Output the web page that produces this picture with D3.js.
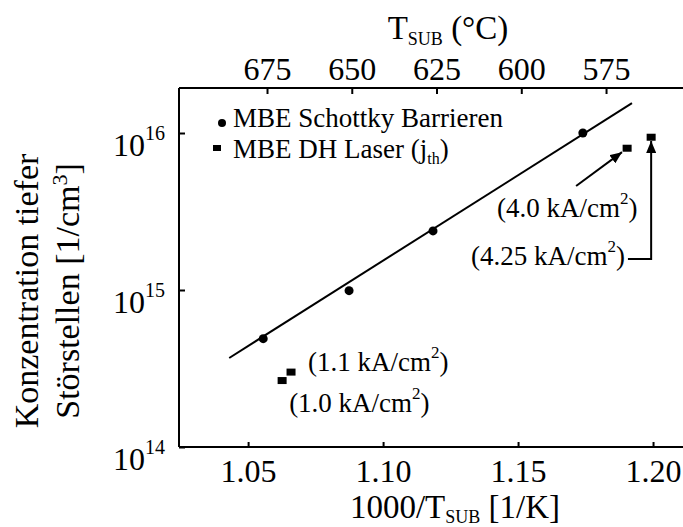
<!DOCTYPE html>
<html>
<head>
<meta charset="utf-8">
<script src="https://cdn.jsdelivr.net/npm/d3@7"></script>
<style>
  body { margin: 0; background: #fff; }
  text { font-family: "Liberation Serif", "Times New Roman", serif; fill: #000; }
</style>
</head>
<body>
<div id="draw_zone"></div>
<script>
// data
var xTicks = [1.05, 1.10, 1.15, 1.20];
var topTicks = [675, 650, 625, 600, 575];
var yTicks = [1e14, 1e15, 1e16];

var schottkyX = [1.0556, 1.0874, 1.1185, 1.1740];
var schottkyY = [4.9e14, 9.9e14, 2.38e15, 1.0e16];
var laserX = [1.0626, 1.0659, 1.1904, 1.1993];
var laserY = [2.65e14, 3.0e14, 8.0e15, 9.4e15];
var fitX = [1.043, 1.1922];
var fitY = [3.69e14, 1.55e16];

var labels = ["(1.1 kA/cm", "(1.0 kA/cm", "(4.0 kA/cm", "(4.25 kA/cm"];
var labelX = [1.0722, 1.0652, 1.1422, 1.1326];
var labelY = [3.05e14, 1.67e14, 2.92e15, 1.44e15];

var W = 683, H = 527;
var svg = d3.select("#draw_zone").append("svg").attr("width", W).attr("height", H);

var x = d3.scaleLinear().domain([1.0244, 1.2111]).range([179, 683]);
var xTop = d3.scaleLinear().domain([700.96, 552.3]).range([179, 683]);
var y = d3.scaleLog().domain([1e14, 1.935e16]).range([447, 88]);

svg.append("defs").append("marker")
  .attr("id", "head").attr("viewBox", "0 0 12 10")
  .attr("refX", 12).attr("refY", 5)
  .attr("markerWidth", 12).attr("markerHeight", 10)
  .attr("markerUnits", "userSpaceOnUse")
  .attr("orient", "auto")
  .append("path").attr("d", "M0,0 L12,5 L0,10 Z").attr("fill", "#000");

// axes
var axBottom = svg.append("g").attr("transform", "translate(0,447)")
  .call(d3.axisBottom(x).tickValues(xTicks).tickSize(-5).tickFormat(d3.format(".2f")).tickPadding(12));
var axTop = svg.append("g").attr("transform", "translate(0,88)")
  .call(d3.axisTop(xTop).tickValues(topTicks).tickSize(-6).tickPadding(8));
var axLeft = svg.append("g").attr("transform", "translate(179,0)")
  .call(d3.axisLeft(y).tickValues(yTicks).tickSize(-6).tickFormat(""));

[axBottom, axTop, axLeft].forEach(function(g) {
  g.attr("font-family", null);
  g.select(".domain").attr("stroke", "#000").attr("stroke-width", 2);
  g.selectAll(".tick line").attr("stroke", "#000").attr("stroke-width", 2);
  g.selectAll(".tick text").attr("font-size", 32).attr("fill", "#000");
});
axBottom.select(".domain").attr("d", "M179,0H683");
axTop.select(".domain").attr("d", "M179,0H683");
axLeft.select(".domain").attr("d", "M0,88V447");

// y tick labels with exponents
yTicks.forEach(function(v) {
  var t = svg.append("text").attr("x", 165).attr("y", y(v) + 23)
    .attr("text-anchor", "end").attr("font-size", 32);
  t.append("tspan").text("10");
  t.append("tspan").attr("font-size", 20).attr("dy", -16).text(Math.round(Math.log10(v)));
});

// axis titles
var tt = svg.append("text").attr("x", 448).attr("y", 39).attr("text-anchor", "middle").attr("font-size", 33);
tt.append("tspan").text("T");
tt.append("tspan").attr("font-size", 18).attr("dy", 6).text("SUB");
tt.append("tspan").attr("dy", -6).text(" (°C)");

var bt = svg.append("text").attr("x", 455).attr("y", 518).attr("text-anchor", "middle").attr("font-size", 33);
bt.append("tspan").text("1000/T");
bt.append("tspan").attr("font-size", 18).attr("dy", 5).text("SUB");
bt.append("tspan").attr("dy", -5).text(" [1/K]");

var yt = svg.append("g").attr("transform", "translate(0,291) rotate(-90)");
yt.append("text").attr("x", 0).attr("y", 38).attr("text-anchor", "middle").attr("font-size", 34)
  .text("Konzentration tiefer");
var yt2 = yt.append("text").attr("x", 0).attr("y", 79).attr("text-anchor", "middle").attr("font-size", 34);
yt2.append("tspan").text("Störstellen [1/cm");
yt2.append("tspan").attr("font-size", 22).attr("dy", -12).text("3");
yt2.append("tspan").attr("dy", 12).text("]");

// fit line
svg.append("path")
  .datum(d3.zip(fitX, fitY))
  .attr("d", d3.line().x(function(d) { return x(d[0]); }).y(function(d) { return y(d[1]); }))
  .attr("fill", "none").attr("stroke", "#000").attr("stroke-width", 2);

// markers
svg.selectAll("circle.sch").data(d3.zip(schottkyX, schottkyY)).enter().append("circle")
  .attr("class", "sch")
  .attr("cx", function(d) { return x(d[0]); }).attr("cy", function(d) { return y(d[1]); })
  .attr("r", 4.5).attr("fill", "#000");
svg.selectAll("rect.las").data(d3.zip(laserX, laserY)).enter().append("rect")
  .attr("class", "las")
  .attr("x", function(d) { return x(d[0]) - 4.5; }).attr("y", function(d) { return y(d[1]) - 3.5; })
  .attr("width", 9).attr("height", 7).attr("fill", "#000");

// legend
svg.append("circle").attr("cx", 222).attr("cy", 123).attr("r", 4).attr("fill", "#000");
svg.append("text").attr("x", 233).attr("y", 127).attr("font-size", 27).text("MBE Schottky Barrieren");
svg.append("rect").attr("x", 213).attr("y", 145).attr("width", 8).attr("height", 6).attr("fill", "#000");
var lg = svg.append("text").attr("x", 233).attr("y", 158).attr("font-size", 27);
lg.append("tspan").text("MBE DH Laser (j");
lg.append("tspan").attr("font-size", 16).attr("dy", 6).text("th");
lg.append("tspan").attr("dy", -6).text(")");

// annotations
labels.forEach(function(s, i) {
  var t = svg.append("text").attr("x", x(labelX[i])).attr("y", y(labelY[i])).attr("font-size", 27);
  t.append("tspan").text(s);
  t.append("tspan").attr("font-size", 17).attr("dy", -13).text("2");
  t.append("tspan").attr("dy", 13).text(")");
});

// arrows
svg.append("path")
  .datum([[1.1715, 4.6e15], [1.1885, 7.55e15]])
  .attr("d", d3.line().x(function(d) { return x(d[0]); }).y(function(d) { return y(d[1]); }))
  .attr("stroke", "#000").attr("stroke-width", 2).attr("fill", "none").attr("marker-end", "url(#head)");
svg.append("path")
  .datum([[1.1907, 1.575e15], [laserX[3], 1.575e15], [laserX[3], 8.9e15]])
  .attr("d", d3.line().x(function(d) { return x(d[0]); }).y(function(d) { return y(d[1]); }))
  .attr("stroke", "#000").attr("stroke-width", 2).attr("fill", "none").attr("marker-end", "url(#head)");
</script>
</body>
</html>
